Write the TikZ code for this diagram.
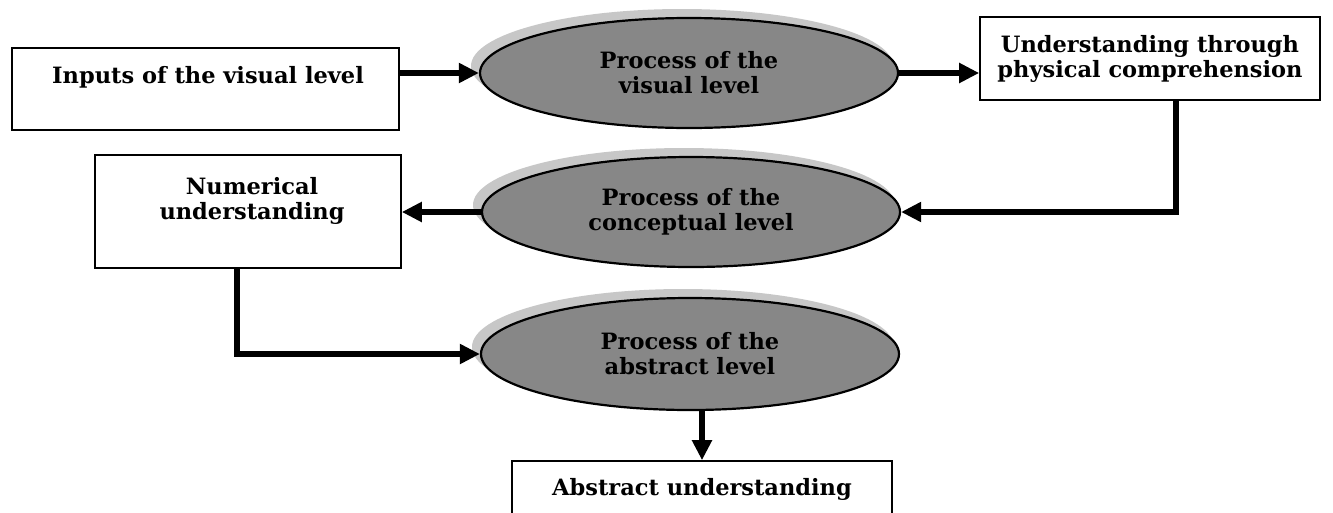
\documentclass[tikz,border=0pt]{standalone}
\usepackage{fontspec}
\setmainfont{DejaVu Serif}
\usetikzlibrary{arrows.meta,shapes.geometric}
\begin{document}
\begin{tikzpicture}[x=1pt,y=-1pt,
  lbl/.style={font=\bfseries\fontsize{22.5}{25}\selectfont,align=center,inner sep=0pt},
  box/.style={lbl,draw=black,line width=1.6pt,rectangle},
  proc/.style={lbl,ellipse,draw=black,line width=2.2pt,fill=black!47,minimum width=418pt,minimum height=110pt},
  halo/.style={fill=black!22},
  flow/.style={line width=5.5pt,line join=miter,-{Triangle[length=20pt,width=19pt]}}
]
\useasboundingbox (0,0) rectangle (1333,512);
\fill[white] (0,0) rectangle (1333,512);
% light speckled halos behind the process ellipses
\fill[halo] (682,66) ellipse [x radius=211pt, y radius=57pt];
\fill[halo] (684,205) ellipse [x radius=211pt, y radius=57pt];
\fill[halo] (683,347) ellipse [x radius=211pt, y radius=58pt];
% boxes
\node[box,minimum width=387pt,minimum height=82pt] (inp) at (205.5,89) {};
\node[lbl] (inpt) at (208,77) {Inputs of the visual level};
\node[box,minimum width=340pt,minimum height=83pt] (und) at (1150,58.5) {Understanding through\\physical comprehension};
\node[box,minimum width=306pt,minimum height=113pt] (num) at (248,211.5) {};
\node[lbl] (numt) at (252,201) {Numerical\\understanding};
\node[box,minimum width=380pt,minimum height=57pt] (abs) at (702,489.5) {Abstract understanding};
% process ellipses
\node[proc] (e1) at (689,73) {Process of the\\visual level};
\node[proc] (e2) at (691,212) {Process of the\\conceptual level};
\node[proc,minimum height=112pt] (e3) at (690,354) {Process of the\\abstract level};
% connectors
\draw[flow] (inp.east |- e1.west) -- (e1.west);
\draw[flow] (e1.east) -- (und.west |- e1.east);
\coordinate (c1) at ([xshift=26pt]und.south);
\draw[flow] (c1) |- (e2.east);
\draw[flow] (e2.west) -- (num.east |- e2.west);
\coordinate (c2) at ([xshift=-11pt]num.south);
\draw[flow] (c2) |- (e3.west);
\draw[flow] (abs.north |- e3.south) -- (abs.north);
\end{tikzpicture}
\end{document}
